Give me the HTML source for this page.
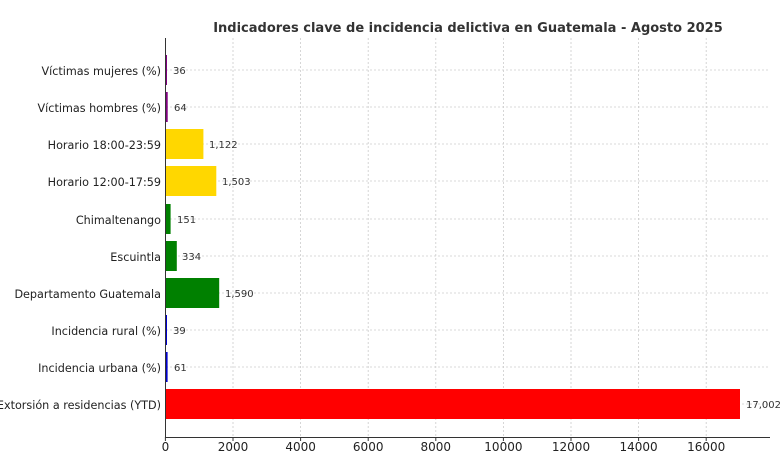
<!DOCTYPE html>
<html><head><style>body{margin:0;background:#fff}svg{display:block}text{font-family:"DejaVu Sans","Liberation Sans",sans-serif}</style></head>
<body>
<svg width="780" height="453" xmlns="http://www.w3.org/2000/svg">
<text x="468" y="32" text-anchor="middle" font-size="13" font-weight="bold" fill="#333">Indicadores clave de incidencia delictiva en Guatemala - Agosto 2025</text>
<g stroke="#ccc" stroke-dasharray="2,2" stroke-width="0.8">
<line x1="233" y1="38" x2="233" y2="437"/><line x1="300.6" y1="38" x2="300.6" y2="437"/><line x1="368.2" y1="38" x2="368.2" y2="437"/><line x1="435.8" y1="38" x2="435.8" y2="437"/><line x1="503.4" y1="38" x2="503.4" y2="437"/><line x1="571" y1="38" x2="571" y2="437"/><line x1="638.6" y1="38" x2="638.6" y2="437"/><line x1="706.2" y1="38" x2="706.2" y2="437"/>
<line x1="166" y1="70" x2="770" y2="70"/><line x1="166" y1="107" x2="770" y2="107"/><line x1="166" y1="144" x2="770" y2="144"/><line x1="166" y1="181" x2="770" y2="181"/><line x1="166" y1="219" x2="770" y2="219"/><line x1="166" y1="256" x2="770" y2="256"/><line x1="166" y1="293" x2="770" y2="293"/><line x1="166" y1="330" x2="770" y2="330"/><line x1="166" y1="367" x2="770" y2="367"/><line x1="166" y1="404" x2="770" y2="404"/>
</g>
<g>
<rect x="165.5" y="55" width="1.5" height="30" fill="#800080"/>
<rect x="165.5" y="92" width="2.2" height="30" fill="#800080"/>
<rect x="165.5" y="129" width="37.9" height="30" fill="#FFD700"/>
<rect x="165.5" y="166" width="50.8" height="30" fill="#FFD700"/>
<rect x="165.5" y="204" width="5.1" height="30" fill="#008000"/>
<rect x="165.5" y="241" width="11.3" height="30" fill="#008000"/>
<rect x="165.5" y="278" width="53.7" height="30" fill="#008000"/>
<rect x="165.5" y="315" width="1.5" height="30" fill="#0000CD"/>
<rect x="165.5" y="352" width="2.1" height="30" fill="#0000CD"/>
<rect x="165.5" y="389" width="574.5" height="30" fill="#FF0000"/>
</g>
<g font-size="10" fill="#333">
<text x="173" y="74">36</text><text x="174" y="111">64</text><text x="209" y="148">1,122</text><text x="222" y="185">1,503</text><text x="177" y="223">151</text><text x="182" y="260">334</text><text x="225" y="297">1,590</text><text x="173" y="334">39</text><text x="174" y="371">61</text><text x="746" y="408">17,002</text>
</g>
<g font-size="11.2" fill="#222" text-anchor="end">
<text x="161" y="75">Víctimas mujeres (%)</text><text x="161" y="112">Víctimas hombres (%)</text><text x="161" y="149">Horario 18:00-23:59</text><text x="161" y="186">Horario 12:00-17:59</text><text x="161" y="224">Chimaltenango</text><text x="161" y="261">Escuintla</text><text x="161" y="298">Departamento Guatemala</text><text x="161" y="335">Incidencia rural (%)</text><text x="161" y="372">Incidencia urbana (%)</text><text x="161" y="409">Extorsión a residencias (YTD)</text>
</g>
<g stroke="#333" stroke-width="1">
<line x1="165.5" y1="38" x2="165.5" y2="437"/><line x1="165" y1="437.5" x2="770" y2="437.5"/>
<line x1="165.4" y1="437" x2="165.4" y2="441"/><line x1="233" y1="437" x2="233" y2="441"/><line x1="300.6" y1="437" x2="300.6" y2="441"/><line x1="368.2" y1="437" x2="368.2" y2="441"/><line x1="435.8" y1="437" x2="435.8" y2="441"/><line x1="503.4" y1="437" x2="503.4" y2="441"/><line x1="571" y1="437" x2="571" y2="441"/><line x1="638.6" y1="437" x2="638.6" y2="441"/><line x1="706.2" y1="437" x2="706.2" y2="441"/>
</g>
<g font-size="12" fill="#222" text-anchor="middle">
<text x="165.4" y="451">0</text><text x="233" y="451">2000</text><text x="300.6" y="451">4000</text><text x="368.2" y="451">6000</text><text x="435.8" y="451">8000</text><text x="503.4" y="451">10000</text><text x="571" y="451">12000</text><text x="638.6" y="451">14000</text><text x="706.2" y="451">16000</text>
</g>
</svg>
</body></html>
